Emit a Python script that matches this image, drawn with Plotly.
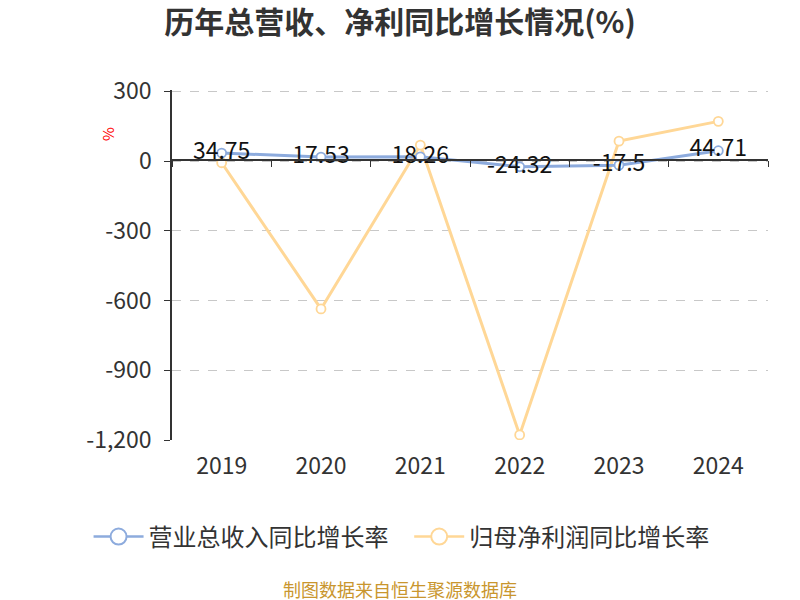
import plotly.graph_objects as go

years = ["2019", "2020", "2021", "2022", "2023", "2024"]
revenue_growth = [34.75, 17.53, 18.26, -24.32, -17.5, 44.71]
profit_growth = [-7, -636, 69, -1178, 86, 171]
revenue_name = "营业总收入同比增长率"
profit_name = "归母净利润同比增长率"
y_ticks = [300, 0, -300, -600, -900, -1200]
y_tick_text = ["300", "0", "-300", "-600", "-900", "-1,200"]

FONT = "Noto Sans CJK SC"
BLUE = "#8DABDD"
ORANGE = "#FFD796"

fig = go.Figure()
fig.add_trace(go.Scatter(
    x=years, y=profit_growth, name=profit_name, mode="lines+markers",
    line=dict(color=ORANGE, width=3),
    marker=dict(symbol="circle", size=9, color="white", line=dict(color=ORANGE, width=1.8)),
    showlegend=False,
))
fig.add_trace(go.Scatter(
    x=years, y=revenue_growth, name=revenue_name, mode="lines+markers+text",
    line=dict(color=BLUE, width=3),
    marker=dict(symbol="circle", size=9, color="white", line=dict(color=BLUE, width=1.8)),
    text=[f"{v:g}" for v in revenue_growth], textposition="middle center",
    textfont=dict(family=FONT, size=23, color="#111"),
    xaxis="x2", showlegend=False,
))
# legend entries with larger symbols (no data)
for name, color, lg in [(revenue_name, BLUE, "legend"), (profit_name, ORANGE, "legend2")]:
    fig.add_trace(go.Scatter(
        x=[None], y=[None], name=name, mode="lines+markers", legend=lg,
        line=dict(color=color, width=2.5),
        marker=dict(symbol="circle", size=22, color="white", line=dict(color=color, width=2)),
    ))

legend_common = dict(orientation="h", y=-0.277, yanchor="middle", xanchor="left",
                     font=dict(family=FONT, size=24, color="#333"), itemwidth=50,
                     bgcolor="rgba(0,0,0,0)")

fig.update_layout(
    width=800, height=600,
    paper_bgcolor="white", plot_bgcolor="white",
    margin=dict(l=172, r=32, t=90, b=160),
    font=dict(family=FONT, color="#333"),
    title=dict(text="<b>历年总营收、净利同比增长情况(%)</b>", x=0.5, xanchor="center",
               y=0.962, yanchor="middle", font=dict(family=FONT, size=30, color="#333")),
    showlegend=True,
    legend=dict(x=-0.14, **legend_common),
    legend2=dict(x=0.398, **legend_common),
    xaxis=dict(type="category", range=[-0.5, 5.5], showline=False, ticks="",
               showgrid=False, tickfont=dict(family=FONT, size=23, color="#333"),
               ticklabelstandoff=10),
    xaxis2=dict(type="category", range=[-0.5, 5.5], overlaying="x", anchor="free",
                position=0.8, side="bottom", showline=True, linecolor="#333", linewidth=1.5,
                ticks="outside", ticklen=6, tickcolor="#333", tickson="boundaries",
                showticklabels=False, showgrid=False),
    yaxis=dict(range=[-1200, 306], tickvals=y_ticks, ticktext=y_tick_text, showline=True,
               linecolor="#333", linewidth=1.5, ticks="outside", ticklen=6, tickcolor="#333",
               showgrid=True, gridcolor="#c8c8c8", griddash="dash", gridwidth=1.2,
               zeroline=False, tickfont=dict(family=FONT, size=23, color="#333"),
               ticklabelstandoff=8),
    annotations=[
        dict(text="%", xref="paper", yref="paper", x=-0.13, y=0.9, showarrow=False,
             textangle=-90, font=dict(family=FONT, size=15, color="red")),
        dict(text="制图数据来自恒生聚源数据库", xref="paper", yref="paper", x=0.3826, y=-0.425,
             yanchor="middle", showarrow=False, font=dict(family=FONT, size=18, color="#C9962E")),
    ],
)

fig.write_html("out.html", config={"displayModeBar": False},
               post_script="document.body.style.margin='0';window.dispatchEvent(new Event('resize'));")
